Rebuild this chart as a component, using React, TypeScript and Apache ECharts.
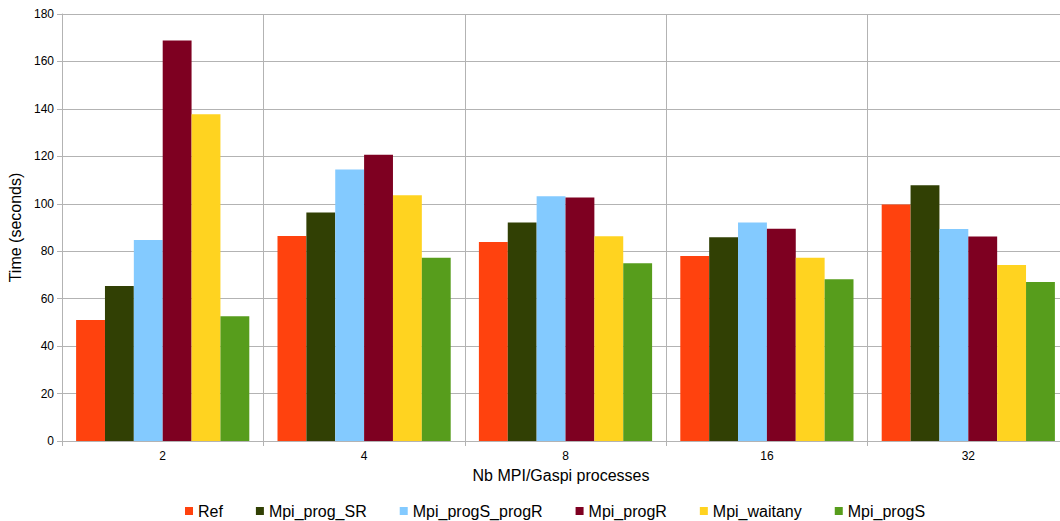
import React, { useEffect, useRef } from "react";
import * as echarts from "echarts";

const categories = ["2", "4", "8", "16", "32"];
const seriesNames = ["Ref", "Mpi_prog_SR", "Mpi_progS_progR", "Mpi_progR", "Mpi_waitany", "Mpi_progS"];
const ref = [51.0, 86.4, 83.9, 78.0, 99.7];
const progSR = [65.3, 96.3, 92.1, 85.9, 107.8];
const progSprogR = [84.7, 114.4, 103.2, 92.1, 89.4];
const progR = [168.8, 120.7, 102.6, 89.5, 86.2];
const waitany = [137.7, 103.6, 86.3, 77.2, 74.2];
const progS = [52.6, 77.3, 74.9, 68.2, 67.0];
const seriesData = [ref, progSR, progSprogR, progR, waitany, progS];
const colors = ["#ff420e", "#314004", "#83caff", "#7e0021", "#ffd320", "#579d1c"];

export default function App() {
  const ref1 = useRef<HTMLDivElement>(null);
  useEffect(() => {
    const chart = echarts.init(ref1.current!, null, { renderer: "svg" });
    const font = "'Liberation Sans', Arial, sans-serif";
    chart.setOption({
      animation: false,
      textStyle: { fontFamily: font },
      grid: { left: 62, right: -9, top: 14, bottom: 80, outerBoundsMode: "none", containLabel: false },
      legend: {
        top: 502,
        padding: 0,
        left: 185,
        itemWidth: 8,
        itemHeight: 8,
        itemGap: 33,
        icon: "rect",
        textStyle: { fontSize: 16, color: "#000", fontFamily: font, lineHeight: 18 },
        data: seriesNames,
      },
      xAxis: {
        type: "category",
        data: categories,
        name: "Nb MPI/Gaspi processes",
        nameLocation: "middle",
        nameGap: 26,
        nameTextStyle: { fontSize: 16, color: "#000", fontFamily: font, padding: [0, 9, 0, 0] },
        axisLine: { lineStyle: { color: "#b3b3b3" } },
        axisTick: { show: true, length: 5, lineStyle: { color: "#b3b3b3" } },
        axisLabel: { fontSize: 12, color: "#000", margin: 9 },
        splitLine: { show: true, lineStyle: { color: "#b3b3b3" } },
      },
      yAxis: {
        type: "value",
        min: 0,
        max: 180,
        interval: 20,
        name: "Time (seconds)",
        nameLocation: "middle",
        nameGap: 37,
        nameTextStyle: { fontSize: 16, color: "#000", fontFamily: font },
        axisLine: { show: true, lineStyle: { color: "#b3b3b3" } },
        axisTick: { show: true, length: 5, lineStyle: { color: "#b3b3b3" } },
        axisLabel: { fontSize: 12, color: "#000", margin: 8 },
        splitLine: { show: true, lineStyle: { color: "#b3b3b3" } },
      },
      series: seriesNames.map((n, i) => ({
        name: n,
        type: "bar",
        data: seriesData[i],
        barGap: "0%",
        barCategoryGap: "14%",
        itemStyle: { color: colors[i] },
      })),
    });
    return () => chart.dispose();
  }, []);
  return <div ref={ref1} style={{ position: "absolute", left: 0, top: 0, width: 1060, height: 521 }} />;
}
